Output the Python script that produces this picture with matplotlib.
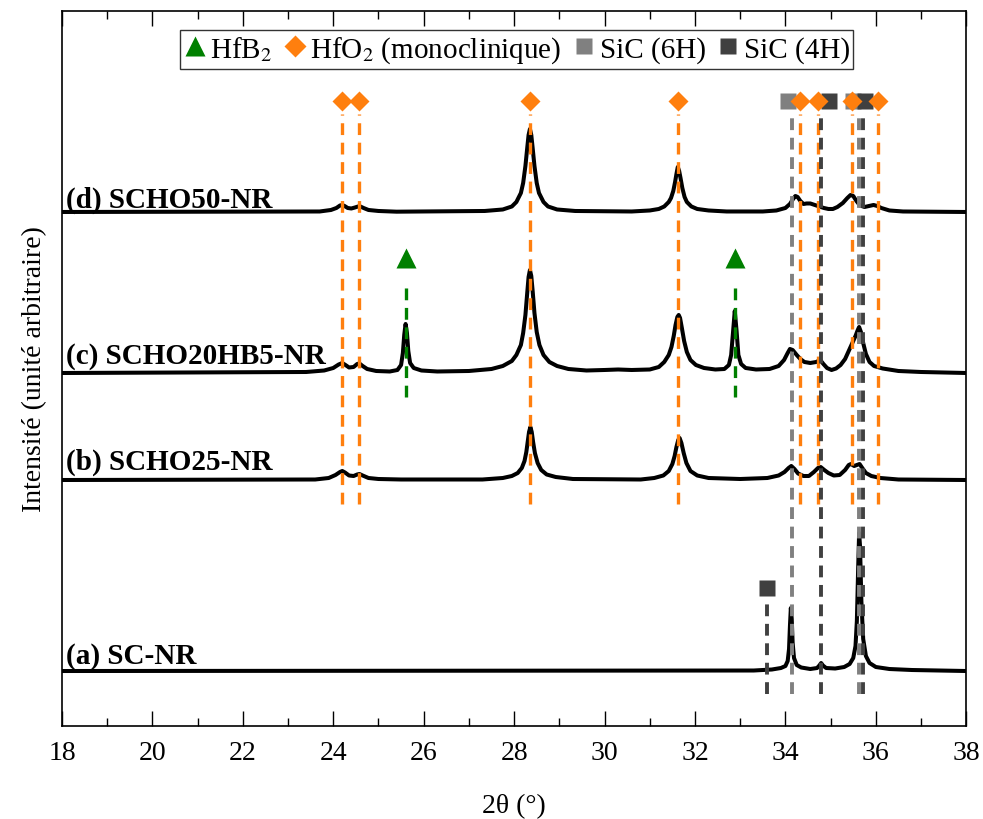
import matplotlib
matplotlib.use("Agg")
import matplotlib.pyplot as plt
from matplotlib.lines import Line2D

plt.rcParams['font.family'] = ['Liberation Serif', 'DejaVu Serif']
plt.rcParams['mathtext.fontset'] = 'stix'
plt.rcParams['lines.scale_dashes'] = False

# ---------------- data (2theta in degrees, intensity in arbitrary units) ----------------
# (d) SCHO50-NR
d_x = [18.0, 23.7, 23.95, 24.07, 24.15, 24.2, 24.25, 24.32, 24.4, 24.48, 24.55, 24.6, 24.67, 24.78, 25.0,
       25.4, 27.35, 27.75, 27.95, 28.05, 28.15, 28.2, 28.25, 28.29, 28.32, 28.35, 28.38, 28.41, 28.45,
       28.5, 28.55, 28.65, 28.75, 28.95, 29.35, 30.6, 31.0, 31.2, 31.32, 31.42, 31.47, 31.52, 31.56,
       31.59, 31.62, 31.65, 31.68, 31.72, 31.77, 31.82, 31.92, 32.05, 32.3, 32.7, 33.5, 33.8, 34.0,
       34.1, 34.17, 34.22, 34.27, 34.33, 34.4, 34.47, 34.55, 34.65, 34.75, 34.85, 34.95, 35.05, 35.15,
       35.27, 35.37, 35.44, 35.5, 35.57, 35.65, 35.75, 35.85, 35.95, 36.03, 36.12, 36.3, 36.6, 38.0]
d_y = [0, 0.5, 2, 4, 6.5, 7, 6, 4, 3.5, 4.5, 5.5, 5.5, 4, 2, 1,
       0.3, 1, 2.5, 5.5, 10, 19, 29, 46, 64, 77, 83, 77, 64, 46,
       29, 19, 10, 5.5, 2.5, 1, 0.5, 1.5, 3, 5.5, 10, 14, 21, 30,
       38, 45, 41, 34, 24, 15, 10, 5.5, 3, 1.5, 0.5, 0.5, 1.5, 4,
       8, 13, 16, 15, 11, 8, 8.5, 8.5, 7, 5.5, 4, 3, 3, 5,
       9, 14, 17, 16, 11, 6.5, 5, 6, 7, 6, 4, 1.5, 0.5, 0]

# (c) SCHO20HB5-NR
c_x = [18.0, 23.4, 23.8, 24.0, 24.12, 24.2, 24.27, 24.35, 24.45, 24.53, 24.58, 24.65, 24.75, 24.95,
       25.25, 25.42, 25.5, 25.54, 25.57, 25.6, 25.63, 25.66, 25.7, 25.78, 25.95, 26.3, 27.0, 27.5,
       27.75, 27.95, 28.05, 28.15, 28.2, 28.25, 28.29, 28.32, 28.35, 28.38, 28.41, 28.45, 28.5, 28.56,
       28.65, 28.78, 28.95, 29.2, 29.6, 30.0, 30.3, 30.6, 31.0, 31.2, 31.32, 31.42, 31.48, 31.53,
       31.57, 31.61, 31.64, 31.67, 31.71, 31.76, 31.82, 31.9, 32.02, 32.2, 32.45, 32.65, 32.75, 32.8,
       32.84, 32.88, 32.92, 32.96, 33.02, 33.12, 33.35, 33.65, 33.85, 33.97, 34.05, 34.1, 34.16, 34.25,
       34.33, 34.42, 34.55, 34.68, 34.77, 34.84, 34.92, 35.02, 35.12, 35.22, 35.32, 35.4, 35.48, 35.55,
       35.6, 35.63, 35.67, 35.72, 35.78, 35.86, 35.96, 36.15, 36.5, 37.0, 38.0]
c_y = [0, 1, 2.5, 5, 8.5, 10, 8, 5.5, 6, 9, 9.5, 7, 4, 2,
       1.5, 3, 8, 20, 38, 49, 40, 22, 10, 5, 2.5, 1.5, 2, 4,
       7, 12, 18, 28, 40, 58, 80, 96, 103, 97, 82, 60, 41, 28,
       18, 11, 7, 4, 2.5, 3, 3.5, 3, 3.5, 6, 11, 18, 26, 37,
       48, 56, 58, 55, 45, 32, 21, 13, 8, 5, 3.5, 4, 8, 18,
       40, 62, 42, 18, 9, 5, 3.5, 4, 7, 13, 20, 24, 23, 18,
       14, 11, 10, 11, 13, 9, 5, 3, 4.5, 8, 14, 22, 30, 37,
       43, 46, 41, 30, 19, 11, 7, 4.5, 2, 1, 0]

# (b) SCHO25-NR
b_x = [18.0, 23.6, 23.9, 24.05, 24.15, 24.2, 24.26, 24.35, 24.45, 24.53, 24.58, 24.65, 24.78, 25.0,
       25.5, 27.3, 27.75, 27.95, 28.08, 28.17, 28.23, 28.27, 28.3, 28.33, 28.36, 28.39, 28.42, 28.46,
       28.52, 28.6, 28.72, 28.92, 29.3, 30.8, 31.1, 31.3, 31.42, 31.5, 31.55, 31.59, 31.63, 31.66,
       31.7, 31.75, 31.81, 31.9, 32.05, 32.3, 33.0, 33.6, 33.85, 33.98, 34.07, 34.13, 34.2, 34.28,
       34.4, 34.52, 34.63, 34.72, 34.78, 34.86, 34.95, 35.07, 35.2, 35.32, 35.4, 35.45, 35.52, 35.58,
       35.64, 35.7, 35.78, 35.9, 36.1, 36.5, 38.0]
b_y = [0, 0.5, 2, 5, 8, 9, 7.5, 4.5, 4, 5.5, 6, 4.5, 2, 1,
       0.5, 0.5, 2, 4, 7, 12, 19, 28, 38, 48, 53, 48, 38, 27,
       17, 10, 5.5, 3, 1, 0.5, 2, 4.5, 9, 16, 24, 33, 40, 42,
       37, 27, 17, 9, 4.5, 2, 1, 2, 4.5, 8, 12, 14, 11, 6.5,
       4, 4, 8, 12, 13, 10, 7, 4.5, 5, 10, 15, 16, 14, 15,
       16, 12, 7, 4, 2, 0.5, 0]

# (a) SC-NR
a_x = [18.0, 33.3, 33.7, 33.9, 34.0, 34.05, 34.08, 34.1, 34.12, 34.14, 34.16, 34.19, 34.25, 34.35,
       34.55, 34.7, 34.75, 34.79, 34.83, 34.9, 35.1, 35.3, 35.42, 35.5, 35.55, 35.58, 35.61, 35.63,
       35.65, 35.68, 35.72, 35.78, 35.86, 36.0, 36.3, 36.8, 38.0]
a_y = [0, 0.5, 1.5, 3, 5, 10, 22, 45, 63, 52, 28, 13, 6, 3.5,
       2, 3, 5.5, 8, 5.5, 3, 2.5, 4, 7, 13, 25, 50, 105, 138,
       125, 70, 32, 15, 8, 4, 2, 1, 0]

traces_x = [a_x, b_x, c_x, d_x]
traces_y = [a_y, b_y, c_y, d_y]
trace_offsets = [55, 246, 353, 514]
trace_labels = ["(a) SC-NR", "(b) SCHO25-NR", "(c) SCHO20HB5-NR", "(d) SCHO50-NR"]
label_y = [71, 265, 370, 527]

# reference positions (2theta)
hfo2_lines = [24.2, 24.57, 28.35, 31.63, 34.33, 34.71, 35.47, 36.05]
sic6h_lines = [34.14, 35.63]
sic4h_lines = [34.79, 35.71]
sic4h_a_line = [33.6]
hfb2_lines = [25.6, 32.88]

hfo2_markers = [24.2, 24.57, 28.35, 31.63, 34.33, 34.71, 35.47, 36.05]
sic6h_markers = [34.05, 35.5]
sic4h_markers = [34.97, 35.75]

legend_labels = ["HfB$_2$", "HfO$_2$ (monoclinique)", "SiC (6H)", "SiC (4H)"]

# ---------------- styles ----------------
c_orange = '#ff7f0e'
c_green = '#008000'
c_gray = '#808080'
c_dark = '#404040'
dash = (0, (8.5, 5.5))

fig = plt.figure(figsize=(9.83, 8.2), dpi=100)
ax = fig.add_axes([0.063, 0.1134, 0.920, 0.872])

for xs, ys, off in zip(traces_x, traces_y, trace_offsets):
    ax.plot(xs, [v + off for v in ys], color='black', lw=2.9, zorder=2,
            solid_joinstyle='round', solid_capstyle='round')

for lab, yy in zip(trace_labels, label_y):
    ax.text(18.08, yy, lab, fontsize=21, fontweight='bold', va='center', ha='left', zorder=4)

# vertical reference lines (on top of traces)
ax.vlines(hfo2_lines, 222, 612, colors=c_orange, lw=2.4, linestyles=dash, zorder=3)
ax.vlines(sic6h_lines, 32, 612, colors=c_gray, lw=2.8, linestyles=dash, zorder=3)
ax.vlines(sic4h_lines, 32, 612, colors=c_dark, lw=2.8, linestyles=dash, zorder=3)
ax.vlines(sic4h_a_line, 32, 129, colors=c_dark, lw=2.8, linestyles=dash, zorder=3)
ax.vlines(hfb2_lines, 329, 439, colors=c_green, lw=2.4, linestyles=dash, zorder=3)

# markers
ax.plot(sic6h_markers, [625] * len(sic6h_markers), ls='none', marker='s', ms=11.5,
        mfc=c_gray, mec='none', zorder=5)
ax.plot(sic4h_markers, [625] * len(sic4h_markers), ls='none', marker='s', ms=11.5,
        mfc=c_dark, mec='none', zorder=5)
ax.plot(hfo2_markers, [625] * len(hfo2_markers), ls='none', marker='D', ms=10.5,
        mfc=c_orange, mec='none', zorder=6)
ax.plot(hfb2_lines, [468] * len(hfb2_lines), ls='none', marker='^', ms=14,
        mfc=c_green, mec='none', zorder=5)
ax.plot(sic4h_a_line, [138], ls='none', marker='s', ms=11.5, mfc=c_dark, mec='none', zorder=5)

ax.set_xlim(18, 38)
ax.set_ylim(0, 715)
ax.set_xticks(range(18, 39, 2))
ax.set_xticks(range(19, 38, 2), minor=True)
ax.set_yticks([])
ax.tick_params(axis='x', which='both', direction='in', top=True, labelsize=20, pad=10)
ax.tick_params(axis='x', which='major', length=11, width=1)
ax.tick_params(axis='x', which='minor', length=6, width=1)
for s in ax.spines.values():
    s.set_linewidth(1.2)

ax.set_xlabel("2θ (°)", fontsize=20, labelpad=20)
ax.set_ylabel("Intensité (unité arbitraire)", fontsize=20, labelpad=11)

handles = [
    Line2D([], [], ls='none', marker='^', ms=15, mfc=c_green, mec='none'),
    Line2D([], [], ls='none', marker='D', ms=11, mfc=c_orange, mec='none'),
    Line2D([], [], ls='none', marker='s', ms=11, mfc=c_gray, mec='none'),
    Line2D([], [], ls='none', marker='s', ms=11, mfc=c_dark, mec='none'),
]
leg = ax.legend(handles, legend_labels, loc='upper center', bbox_to_anchor=(0.503, 0.973),
                ncol=4, fontsize=21, frameon=True, fancybox=False, edgecolor='black',
                handlelength=0.75, handletextpad=0.15, columnspacing=0.4, borderpad=0.12,
                borderaxespad=0.0)
leg.get_frame().set_linewidth(1.0)

fig.savefig("out.png", dpi=100)
